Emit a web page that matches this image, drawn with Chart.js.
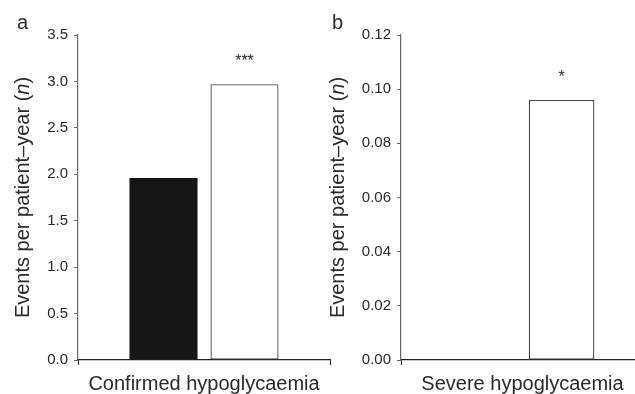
<!DOCTYPE html>
<html><head><meta charset="utf-8">
<script src="https://cdn.jsdelivr.net/npm/chart.js@4.4.1/dist/chart.umd.min.js"></script>
<style>
html,body{margin:0;padding:0;width:635px;height:394px;overflow:hidden;background:#fff}
#ca{position:absolute;left:0;top:0}
#cb{position:absolute;left:318px;top:0}
</style></head><body>
<canvas id="ca" width="336" height="394"></canvas>
<canvas id="cb" width="332" height="394"></canvas>
<script>
// ---- data ----
const panelLetters = ['a', 'b'];
const categoriesA = ['Confirmed hypoglycaemia'];
const categoriesB = ['Severe hypoglycaemia'];
const seriesNames = ['Comparator', 'Treatment'];
const confirmedValues = [1.96, 2.97];
const severeValues = [0, 0.096];
const confirmedStars = ['', '***'];
const severeStars = ['', '*'];
const yTicksA = [0, 0.5, 1.0, 1.5, 2.0, 2.5, 3.0, 3.5];
const yTicksB = [0, 0.02, 0.04, 0.06, 0.08, 0.10, 0.12];
const yTitleParts = ['Events per patient\u2013year (', 'n', ')'];

const FONT = '"Liberation Sans", Arial, Helvetica, sans-serif';
const TEXT = '#2a2a2a';

function decoPlugin(letter, stars, titleX, letterX) {
  return {
    id: 'deco' + letter,
    afterDraw(chart) {
      const ctx = chart.ctx;
      const area = chart.chartArea;
      ctx.save();
      ctx.fillStyle = TEXT;
      // panel letter
      ctx.font = '20px ' + FONT;
      ctx.textAlign = 'left';
      ctx.textBaseline = 'alphabetic';
      ctx.fillText(letter, letterX, 29);
      // rotated y title with italic n
      const fN = '20px ' + FONT, fI = 'italic 20px ' + FONT;
      ctx.font = fN; const w0 = ctx.measureText(yTitleParts[0]).width;
      ctx.font = fI; const w1 = ctx.measureText(yTitleParts[1]).width;
      ctx.font = fN; const w2 = ctx.measureText(yTitleParts[2]).width;
      const total = w0 + w1 + w2;
      ctx.translate(titleX, (area.top + area.bottom) / 2);
      ctx.rotate(-Math.PI / 2);
      ctx.textBaseline = 'middle';
      let x = -total / 2;
      ctx.font = fN; ctx.fillText(yTitleParts[0], x, 0); x += w0;
      ctx.font = fI; ctx.fillText(yTitleParts[1], x, 0); x += w1;
      ctx.font = fN; ctx.fillText(yTitleParts[2], x, 0);
      ctx.restore();
      // significance stars
      ctx.save();
      ctx.fillStyle = TEXT;
      ctx.font = '16px ' + FONT;
      ctx.textAlign = 'center';
      ctx.textBaseline = 'alphabetic';
      chart.data.datasets.forEach((ds, i) => {
        const meta = chart.getDatasetMeta(i);
        meta.data.forEach((el, j) => {
          const s = stars[i];
          if (!s) return;
          ctx.fillText(s, el.x, el.y - 18);
        });
      });
      ctx.restore();
    }
  };
}

function makeChart(id, cats, values, ticks, decimals, stars, letter, yWidth, titleX, letterX) {
  return new Chart(document.getElementById(id), {
    type: 'bar',
    data: {
      labels: cats,
      datasets: [
        { label: seriesNames[0], data: [values[0]], backgroundColor: '#161616', borderColor: '#161616', borderWidth: 0 },
        { label: seriesNames[1], data: [values[1]], backgroundColor: '#ffffff', borderColor: '#4a4a4a', borderWidth: 1.3, borderSkipped: false }
      ]
    },
    options: {
      responsive: false,
      devicePixelRatio: 1,
      animation: false,
      events: [],
      layout: { padding: { top: 35, right: 6, left: 0, bottom: 0 } },
      plugins: { legend: { display: false }, tooltip: { enabled: false } },
      datasets: { bar: { categoryPercentage: 0.643, barPercentage: 0.84 } },
      scales: {
        x: {
          offset: true,
          grid: { display: true, offset: true, drawOnChartArea: false, drawTicks: true, tickLength: 5, color: '#222', lineWidth: 1 },
          border: { display: true, color: '#222', width: 1.2 },
          ticks: { color: TEXT, font: { family: FONT, size: 20 }, padding: 7 },
          afterFit(s) { s.height = 34; }
        },
        y: {
          min: ticks[0], max: ticks[ticks.length - 1],
          afterBuildTicks(s) { s.ticks = ticks.map(v => ({ value: v })); },
          grid: { display: true, drawOnChartArea: false, drawTicks: true, tickLength: 4, color: '#666', lineWidth: 1 },
          border: { display: true, color: '#666', width: 1.2 },
          ticks: { color: TEXT, font: { family: FONT, size: 15 }, padding: 6, callback: v => Number(v).toFixed(decimals) },
          afterFit(s) { s.width = yWidth; }
        }
      }
    },
    plugins: [decoPlugin(letter, stars, titleX, letterX)]
  });
}

makeChart('ca', categoriesA, confirmedValues, yTicksA, 1, confirmedStars, panelLetters[0], 78, 23, 17);
makeChart('cb', categoriesB, severeValues, yTicksB, 2, severeStars, panelLetters[1], 83, 20, 14);
</script>
</body></html>
